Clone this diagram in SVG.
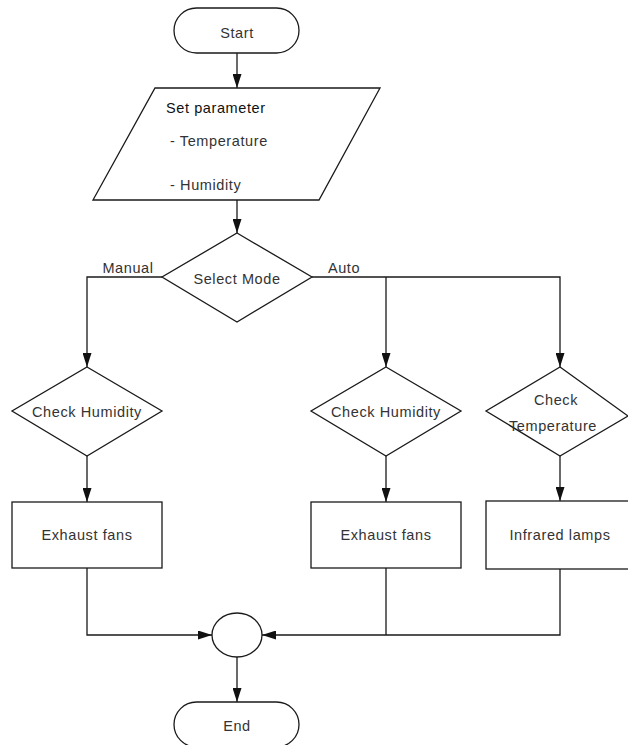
<svg xmlns="http://www.w3.org/2000/svg" width="628" height="745" viewBox="0 0 628 745">
<style>
.s{fill:#fff;stroke:#1a1a1a;stroke-width:1.3}
.c{fill:none;stroke:#1a1a1a;stroke-width:1.3}
text{font-family:"Liberation Sans",Arial,sans-serif;font-size:14.5px;fill:#333;letter-spacing:0.6px}
.m{text-anchor:middle}
</style>
<defs>
<marker id="ah" markerUnits="userSpaceOnUse" markerWidth="14" markerHeight="9" viewBox="0 0 14 9" refX="14" refY="4.5" orient="auto">
<path d="M0,0 L14,4.5 L0,9 z" fill="#111"/>
</marker>
</defs>
<rect width="628" height="745" fill="#fff"/>
<g id="connectors">
<path class="c" d="M237,53 V88" marker-end="url(#ah)"/>
<path class="c" d="M237,200 V233" marker-end="url(#ah)"/>
<path class="c" d="M162,277 H87 V367" marker-end="url(#ah)"/>
<path class="c" d="M312,277 H560 V367" marker-end="url(#ah)"/>
<path class="c" d="M386,277 V367" marker-end="url(#ah)"/>
<path class="c" d="M87,456 V502" marker-end="url(#ah)"/>
<path class="c" d="M386,456 V502" marker-end="url(#ah)"/>
<path class="c" d="M560,456 V501" marker-end="url(#ah)"/>
<path class="c" d="M87,568 V635 H212" marker-end="url(#ah)"/>
<path class="c" d="M560,569 V635 H262" marker-end="url(#ah)"/>
<path class="c" d="M386,568 V635"/>
<path class="c" d="M237,657 V702" marker-end="url(#ah)"/>
<text x="128" y="273" class="m">Manual</text>
<text x="344" y="273" class="m">Auto</text>
</g>
<g id="start">
<rect class="s" x="174" y="8" width="125" height="45" rx="22.5"/>
<text x="237" y="38" class="m">Start</text>
</g>
<g id="param">
<polygon class="s" points="155,88 380,88 319,200 93,200"/>
<text x="166" y="113" fill="#111" style="fill:#111">Set parameter</text>
<text x="170" y="146">- Temperature</text>
<text x="170" y="190">- Humidity</text>
</g>
<g id="select">
<polygon class="s" points="237,233 312,277 237,322 162,277"/>
<text x="237" y="284" class="m">Select Mode</text>
</g>
<g id="checkHum1">
<polygon class="s" points="87,367 162,411 87,456 12,411"/>
<text x="87" y="417" class="m">Check Humidity</text>
</g>
<g id="checkHum2">
<polygon class="s" points="386,367 461,411 386,456 311,411"/>
<text x="386" y="417" class="m">Check Humidity</text>
</g>
<g id="checkTemp">
<polygon class="s" points="560,367 628,416 560,456 486,411"/>
<text x="556" y="405" class="m">Check</text>
<text x="553" y="431" class="m">Temperature</text>
</g>
<g id="fans1">
<rect class="s" x="12" y="502" width="150" height="66"/>
<text x="87" y="540" class="m">Exhaust fans</text>
</g>
<g id="fans2">
<rect class="s" x="311" y="502" width="150" height="66"/>
<text x="386" y="540" class="m">Exhaust fans</text>
</g>
<g id="lamps">
<rect class="s" x="486" y="501" width="160" height="68"/>
<text x="560" y="540" class="m">Infrared lamps</text>
</g>
<g id="merge">
<ellipse class="s" cx="237" cy="635" rx="25" ry="22"/>
</g>
<g id="end">
<rect class="s" x="174" y="702" width="125" height="45" rx="22.5"/>
<text x="237" y="731" class="m">End</text>
</g>
</svg>
